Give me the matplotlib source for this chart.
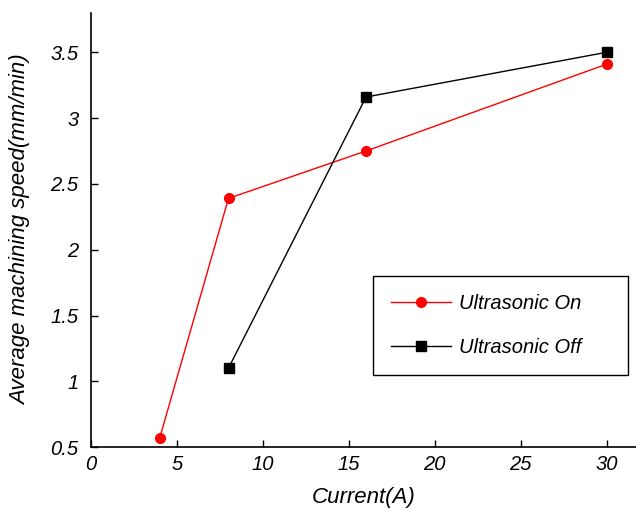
import matplotlib
matplotlib.use("Agg")
import matplotlib.pyplot as plt

plt.rcParams['font.family'] = ['Liberation Sans', 'DejaVu Sans']
plt.rcParams['font.style'] = 'italic'

# data
current_on = [4, 8, 16, 30]
speed_on = [0.57, 2.39, 2.75, 3.41]
current_off = [8, 16, 30]
speed_off = [1.10, 3.16, 3.50]

fig = plt.figure(figsize=(6.36, 5.11), dpi=100)
ax = fig.add_axes([0.143, 0.125, 0.857, 0.85])

ax.plot(current_on, speed_on, color='red', marker='o', markersize=7,
        linewidth=1, label='Ultrasonic On')
ax.plot(current_off, speed_off, color='black', marker='s', markersize=7,
        linewidth=1, label='Ultrasonic Off')

ax.set_xlim(0, 31.7)
ax.set_ylim(0.5, 3.8)
ax.set_xticks([0, 5, 10, 15, 20, 25, 30])
ax.set_yticks([0.5, 1, 1.5, 2, 2.5, 3, 3.5])
ax.set_yticklabels(['0.5', '1', '1.5', '2', '2.5', '3', '3.5'])
ax.tick_params(direction='in', length=5, labelsize=14.5, width=1)
ax.tick_params(axis='x', pad=6)
ax.tick_params(axis='y', pad=9)
for lab in ax.get_xticklabels() + ax.get_yticklabels():
    lab.set_fontstyle('italic')

ax.spines['top'].set_visible(False)
ax.spines['right'].set_visible(False)
ax.spines['left'].set_linewidth(1.2)
ax.spines['bottom'].set_linewidth(1.2)

ax.set_xlabel('Current(A)', fontsize=16, style='italic', labelpad=9)
ax.set_ylabel('Average machining speed(mm/min)', fontsize=16, style='italic', labelpad=14)

leg = ax.legend(loc='lower left', bbox_to_anchor=(0.517, 0.166, 0.468, 0.235),
                mode='expand', fontsize=14.5,
                fancybox=False, edgecolor='black', framealpha=1,
                handlelength=3.0, handletextpad=0.4, borderpad=0.9,
                labelspacing=1.25, borderaxespad=0)
leg.get_frame().set_linewidth(1)

fig.savefig('out.png', dpi=100)
